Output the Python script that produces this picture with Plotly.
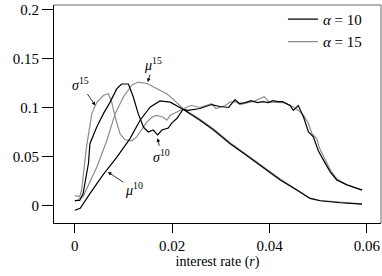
import plotly.graph_objects as go

# ---- data ----
sigma10_r = [0.0, 0.0010, 0.0017, 0.0028, 0.0031, 0.0045, 0.0059, 0.0072, 0.0086, 0.0096, 0.0110,
             0.0120, 0.0130, 0.0141, 0.0151, 0.0161, 0.0170, 0.0179, 0.0192, 0.0199, 0.0210, 0.0222,
             0.0233, 0.0247, 0.0257, 0.0281, 0.0298, 0.0316, 0.0329, 0.0338, 0.0350, 0.0362, 0.0375,
             0.0386, 0.0397, 0.0407, 0.0417, 0.0427, 0.0442, 0.0449, 0.0459, 0.0470, 0.0480, 0.0490,
             0.0500, 0.0511, 0.0525, 0.0538, 0.0559, 0.0590]
sigma10 = [0.005, 0.005, 0.012, 0.043, 0.063, 0.080, 0.094, 0.105, 0.119, 0.124, 0.124,
           0.111, 0.094, 0.080, 0.075, 0.077, 0.072, 0.077, 0.079, 0.084, 0.089, 0.098,
           0.097, 0.098, 0.099, 0.103, 0.101, 0.100, 0.108, 0.104, 0.105, 0.107, 0.105,
           0.106, 0.105, 0.107, 0.106, 0.106, 0.102, 0.097, 0.102, 0.090, 0.075, 0.070,
           0.056, 0.046, 0.034, 0.026, 0.021, 0.0156]

sigma15_r = [0.0, 0.0010, 0.0014, 0.0024, 0.0035, 0.0045, 0.0059, 0.0069, 0.0076, 0.0083, 0.0093,
             0.0103, 0.0117, 0.0127, 0.0137, 0.0148, 0.0158, 0.0168, 0.0182, 0.0189, 0.0196, 0.0210,
             0.0222, 0.0233, 0.0240, 0.0257, 0.0281, 0.0290, 0.0309, 0.0319, 0.0330, 0.0340, 0.0355,
             0.0367, 0.0379, 0.0389, 0.0399, 0.0415, 0.0430, 0.0449, 0.0459, 0.0470, 0.0480, 0.0487,
             0.0497, 0.0503, 0.0511, 0.0525, 0.0538, 0.0559, 0.0590]
sigma15 = [0.010, 0.009, 0.016, 0.060, 0.094, 0.105, 0.1125, 0.114, 0.105, 0.090, 0.073,
           0.067, 0.066, 0.070, 0.077, 0.085, 0.090, 0.092, 0.090, 0.087, 0.092, 0.0955,
           0.099, 0.101, 0.102, 0.100, 0.104, 0.099, 0.102, 0.1055, 0.106, 0.103, 0.105,
           0.106, 0.109, 0.111, 0.1055, 0.105, 0.105, 0.1006, 0.097, 0.092, 0.0837, 0.0735,
           0.068, 0.058, 0.050, 0.036, 0.027, 0.021, 0.016]

mu10_r = [0.0, 0.0011, 0.0031, 0.0059, 0.0086, 0.0113, 0.0134, 0.0155, 0.0175, 0.0196, 0.0223,
          0.0257, 0.0285, 0.0319, 0.0353, 0.0387, 0.0422, 0.0456, 0.0483, 0.0504, 0.0545, 0.0590]
mu10 = [-0.005, -0.003, 0.012, 0.032, 0.049, 0.068, 0.087, 0.1006, 0.1067, 0.1055, 0.098,
        0.087, 0.077, 0.063, 0.051, 0.039, 0.026, 0.0156, 0.0071, 0.0047, 0.0027, 0.0013]

mu15_r = [0.0, 0.0017, 0.0045, 0.0066, 0.0083, 0.0100, 0.0117, 0.0130, 0.0148, 0.0168, 0.0189,
          0.0205, 0.0222, 0.0257, 0.0285, 0.0319, 0.0353, 0.0387, 0.0422, 0.0456, 0.0483, 0.0504,
          0.0545, 0.0590]
mu15 = [0.004, 0.009, 0.039, 0.0666, 0.094, 0.111, 0.1228, 0.126, 0.1245, 0.119, 0.114,
        0.107, 0.099, 0.088, 0.078, 0.064, 0.052, 0.040, 0.027, 0.016, 0.0075, 0.005,
        0.003, 0.0015]

x_ticks = [0, 0.02, 0.04, 0.06]
x_ticklabels = ["0", "0.02", "0.04", "0.06"]
y_ticks = [0, 0.05, 0.1, 0.15, 0.2]
y_ticklabels = ["0", "0.05", "0.1", "0.15", "0.2"]

BLACK = "#000000"
GRAY = "#8c8c8c"
FONT = "Liberation Serif, serif"
FS = 14
TICK_FS = 15
LW = 1.2

fig = go.Figure()
fig.add_trace(go.Scatter(x=mu15_r, y=mu15, mode="lines", line=dict(color=GRAY, width=LW),
                         name="<i>α</i> = 15", legendgroup="a15", showlegend=False))
fig.add_trace(go.Scatter(x=sigma15_r, y=sigma15, mode="lines", line=dict(color=GRAY, width=LW),
                         name="<i>α</i> = 15", legendgroup="a15", showlegend=False))
fig.add_trace(go.Scatter(x=mu10_r, y=mu10, mode="lines", line=dict(color=BLACK, width=LW),
                         name="<i>α</i> = 10", legendgroup="a10", showlegend=False))
fig.add_trace(go.Scatter(x=sigma10_r, y=sigma10, mode="lines", line=dict(color=BLACK, width=LW),
                         name="<i>α</i> = 10", legendgroup="a10", showlegend=False))
# legend entries
fig.add_trace(go.Scatter(x=[None], y=[None], mode="lines", line=dict(color=BLACK, width=LW),
                         name="<i>α</i> = 10", legendgroup="a10"))
fig.add_trace(go.Scatter(x=[None], y=[None], mode="lines", line=dict(color=GRAY, width=LW),
                         name="<i>α</i> = 15", legendgroup="a15"))

ann_font = dict(family=FONT, size=FS, color="black")
def arrow_ann(x, y, text, ax, ay):
    return dict(x=x, y=y, xref="x", yref="y", text=text, showarrow=True,
                ax=ax, ay=ay, arrowhead=2, arrowsize=0.9, arrowwidth=0.8,
                arrowcolor="black", font=ann_font, standoff=0, startstandoff=0)

annotations = [
    arrow_ann(0.0042, 0.102, "<i>σ</i><sup>15</sup>", -15, -22),
    arrow_ann(0.0150, 0.126, "<i>μ</i><sup>15</sup>", 5, -18),
    arrow_ann(0.0170, 0.0686, "<i>σ</i><sup>10</sup>", 4, 18),
    arrow_ann(0.0068, 0.034, "<i>μ</i><sup>10</sup>", 26, 17),
]

fig.update_layout(
    width=382, height=276,
    margin=dict(l=54, r=1, t=5, b=53, autoexpand=False),
    paper_bgcolor="white", plot_bgcolor="white",
    font=dict(family=FONT, size=FS, color="black"),
    showlegend=True,
    legend=dict(x=0.70, y=1.01, xanchor="left", yanchor="top",
                bgcolor="rgba(0,0,0,0)", font=dict(family=FONT, size=15),
                tracegroupgap=0),
    annotations=annotations,
    shapes=[
        dict(type="line", xref="paper", yref="paper", x0=0, x1=1, y0=1, y1=1,
             line=dict(color="#666666", width=1)),
        dict(type="line", xref="paper", yref="paper", x0=1, x1=1, y0=0, y1=1,
             line=dict(color="#666666", width=1)),
    ],
)
fig.update_xaxes(range=[-0.00428, 0.0629], tickvals=x_ticks, ticktext=x_ticklabels,
                 automargin=False, tickfont=dict(family=FONT, size=TICK_FS),
                 showgrid=False, zeroline=False, showline=True, linecolor="black", linewidth=1,
                 ticks="outside", ticklen=9, tickcolor="black", tickwidth=1,
                 title=dict(text="interest rate (<i>r</i>)", standoff=2,
                            font=dict(family=FONT, size=FS)))
fig.update_yaxes(range=[-0.018, 0.2047], tickvals=y_ticks, ticktext=y_ticklabels,
                 automargin=False, tickfont=dict(family=FONT, size=TICK_FS),
                 showgrid=False, zeroline=False, showline=True, linecolor="black", linewidth=1,
                 ticks="outside", ticklen=11, tickcolor="black", tickwidth=1)

fig.write_html("out.html", config={"displayModeBar": False},
               post_script="document.body.style.margin='0';document.body.style.padding='0';")
